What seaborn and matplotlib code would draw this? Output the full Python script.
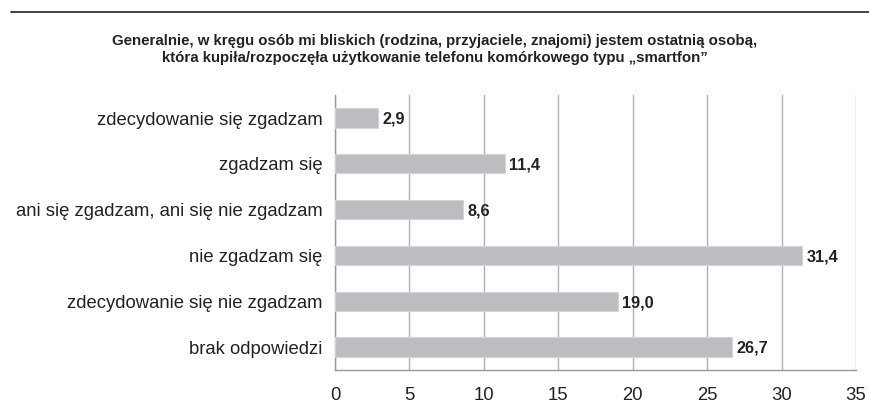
import matplotlib
matplotlib.use("Agg")
import matplotlib.pyplot as plt
import seaborn as sns
import pandas as pd

# Survey answers and percentages
categories = [
    "zdecydowanie się zgadzam",
    "zgadzam się",
    "ani się zgadzam, ani się nie zgadzam",
    "nie zgadzam się",
    "zdecydowanie się nie zgadzam",
    "brak odpowiedzi",
]
values = [2.9, 11.4, 8.6, 31.4, 19.0, 26.7]
x_ticks = [0, 5, 10, 15, 20, 25, 30, 35]

title = ("Generalnie, w kręgu osób mi bliskich (rodzina, przyjaciele, znajomi) jestem ostatnią osobą,\n"
         "która kupiła/rozpoczęła użytkowanie telefonu komórkowego typu „smartfon”")

df = pd.DataFrame({"odpowiedz": categories, "procent": values})

sns.set_style("white")
plt.rcParams["font.family"] = ["Liberation Sans", "DejaVu Sans"]

fig = plt.figure(figsize=(8.7, 4.12), dpi=100)
ax = fig.add_axes([0.385, 0.102, 0.599, 0.667])

sns.barplot(data=df, x="procent", y="odpowiedz", orient="h", color="#bcbdc0",
            width=0.42, edgecolor="#d4d5d7", linewidth=0.8, saturation=1, ax=ax, zorder=3)

# value labels at bar ends
for i, v in enumerate(values):
    ax.text(v + 0.3, i + 0.03, f"{v:.1f}".replace(".", ","), va="center", ha="left",
            fontsize=11.7, fontweight="bold", color="#222222", zorder=4)

ax.set_xlim(0, 35)
ax.set_ylim(len(categories) - 0.5, -0.5)
ax.set_xticks(x_ticks)
ax.set_xticklabels([str(t) for t in x_ticks], fontsize=13.3, color="#222222")
ax.set_yticks(range(len(categories)))
ax.set_yticklabels(categories, fontsize=13.3, color="#222222")
ax.set_xlabel("")
ax.set_ylabel("")

# minor ticks between categories on the y axis
ax.set_yticks([i + 0.5 for i in range(-1, len(categories))], minor=True)
ax.tick_params(axis="y", which="major", length=0, pad=9)
ax.tick_params(axis="y", which="minor", length=4, color="#999999", width=1)
ax.tick_params(axis="x", length=4, color="#999999", width=1, pad=8)

ax.grid(axis="x", color="#b0b0b0", linewidth=1, zorder=0)
ax.grid(axis="y", visible=False)
for side in ["top", "right"]:
    ax.spines[side].set_visible(False)
for side in ["left", "bottom"]:
    ax.spines[side].set_color("#999999")
    ax.spines[side].set_linewidth(1)

fig.text(0.5, 0.88, title, ha="center", va="center", fontsize=10.8,
         fontweight="bold", color="#222222", linespacing=1.3)

# horizontal rule at the top
fig.add_artist(plt.Line2D([0.013, 1.0], [0.971, 0.971], color="#333333", linewidth=1.3))

fig.savefig("out.png", dpi=100)
